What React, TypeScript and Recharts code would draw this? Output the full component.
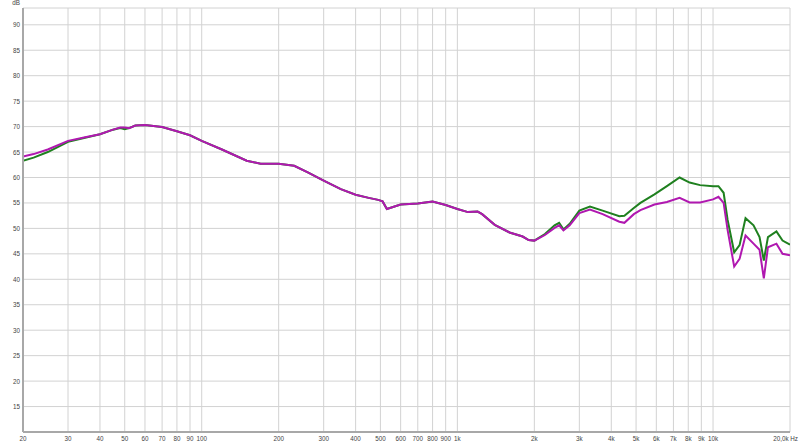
import React from 'react';
import { LineChart, Line, XAxis, YAxis, CartesianGrid } from 'recharts';

const freqs = [20, 22, 25, 30, 35, 40, 45, 48, 50, 52, 55, 60, 70, 80, 90, 100, 120, 150, 170, 200, 230, 260, 300, 350, 400, 450, 490, 510, 530, 560, 600, 700, 800, 900, 1000, 1100, 1200, 1250, 1400, 1600, 1800, 1900, 2000, 2200, 2400, 2500, 2600, 2750, 3000, 3300, 3700, 4300, 4500, 4900, 5200, 5900, 6600, 7400, 8100, 8900, 10000, 10500, 11000, 11400, 12100, 12700, 13400, 14400, 15200, 15800, 16400, 17700, 18700, 20000];

const greenDb = [63.3, 63.9, 65.0, 67.0, 67.8, 68.5, 69.4, 69.7, 69.5, 69.7, 70.2, 70.3, 69.9, 69.1, 68.3, 67.2, 65.5, 63.3, 62.7, 62.7, 62.3, 61.0, 59.4, 57.7, 56.6, 56.0, 55.6, 55.3, 53.8, 54.2, 54.7, 54.9, 55.3, 54.6, 53.8, 53.2, 53.3, 52.8, 50.7, 49.2, 48.4, 47.7, 47.6, 48.9, 50.6, 51.1, 49.8, 50.9, 53.5, 54.3, 53.5, 52.4, 52.5, 54.0, 55.0, 56.7, 58.3, 60.0, 59.0, 58.5, 58.3, 58.3, 57.0, 51.7, 45.3, 46.7, 52.0, 50.6, 48.3, 43.7, 48.3, 49.4, 47.6, 46.8];

const purpleDb = [64.1, 64.6, 65.5, 67.2, 67.9, 68.5, 69.4, 69.8, 69.8, 69.7, 70.2, 70.3, 69.9, 69.1, 68.3, 67.2, 65.5, 63.3, 62.7, 62.7, 62.3, 61.0, 59.4, 57.7, 56.6, 56.0, 55.6, 55.3, 53.8, 54.2, 54.7, 54.9, 55.3, 54.6, 53.8, 53.2, 53.3, 52.8, 50.7, 49.2, 48.4, 47.7, 47.6, 48.7, 50.1, 50.6, 49.6, 50.6, 53.0, 53.7, 52.8, 51.3, 51.1, 52.8, 53.6, 54.7, 55.2, 56.0, 55.1, 55.1, 55.7, 56.2, 55.0, 49.7, 42.5, 44.0, 48.6, 47.0, 45.8, 40.2, 46.3, 47.0, 45.0, 44.7];

const xTicks = [20, 30, 40, 50, 60, 70, 80, 90, 100, 200, 300, 400, 500, 600, 700, 800, 900, 1000, 2000, 3000, 4000, 5000, 6000, 7000, 8000, 9000, 10000, 20000];
const xTickLabels = ['20', '30', '40', '50', '60', '70', '80', '90', '100', '200', '300', '400', '500', '600', '700', '800', '900', '1k', '2k', '3k', '4k', '5k', '6k', '7k', '8k', '9k', '10k', '20,0k Hz'];

const yTicks = [15, 20, 25, 30, 35, 40, 45, 50, 55, 60, 65, 70, 75, 80, 85, 90, 93.3];
const yUnitLabel = 'dB';
const Y_MIN = 10;
const Y_MAX = 93.3;

const data = freqs.map((f, i) => ({ f, g: greenDb[i], p: purpleDb[i] }));

const FONT = 'Liberation Sans, Arial, sans-serif';
const FS = 6.3;

const XTick = (props: any) => {
  const { x, y, payload } = props;
  const idx = xTicks.indexOf(payload.value);
  const label = idx >= 0 ? xTickLabels[idx] : '';
  const last = idx === xTicks.length - 1;
  return (
    <text x={last ? x + 8 : x} y={y} dy={6.5} textAnchor={last ? 'end' : 'middle'} fontSize={FS} fontFamily={FONT} fill="#444">
      {label}
    </text>
  );
};

const YTick = (props: any) => {
  const { x, y, payload } = props;
  const isTop = payload.value === Y_MAX;
  return (
    <text x={x} y={isTop ? y - 5.5 : y} dy={2.5} textAnchor="end" fontSize={FS} fontFamily={FONT} fill="#444">
      {isTop ? yUnitLabel : String(payload.value)}
    </text>
  );
};

export default function App() {
  return (
    <div style={{ position: 'absolute', left: 0, top: 0, width: 800, height: 443, background: '#fff' }}>
      <LineChart width={800} height={443} data={data} margin={{ top: 8, right: 10, left: 0, bottom: 0 }}>
        <CartesianGrid stroke="#d2d2d2" strokeWidth={1} />
        <XAxis
          dataKey="f"
          type="number"
          scale="log"
          domain={[20, 20000]}
          ticks={xTicks}
          interval={0}
          allowDataOverflow
          height={11}
          tickSize={0}
          tickMargin={2}
          tickLine={false}
          axisLine={{ stroke: '#a8a8a8', strokeWidth: 2 }}
          tick={<XTick />}
        />
        <YAxis
          type="number"
          domain={[Y_MIN, Y_MAX]}
          ticks={yTicks}
          interval={0}
          allowDataOverflow
          width={23}
          tickSize={0}
          tickMargin={3}
          tickLine={false}
          axisLine={{ stroke: '#a8a8a8', strokeWidth: 2 }}
          tick={<YTick />}
        />
        <Line type="linear" dataKey="g" stroke="#1f801f" strokeWidth={2} dot={false} isAnimationActive={false} />
        <Line type="linear" dataKey="p" stroke="#b018b0" strokeWidth={2} dot={false} isAnimationActive={false} />
      </LineChart>
    </div>
  );
}
